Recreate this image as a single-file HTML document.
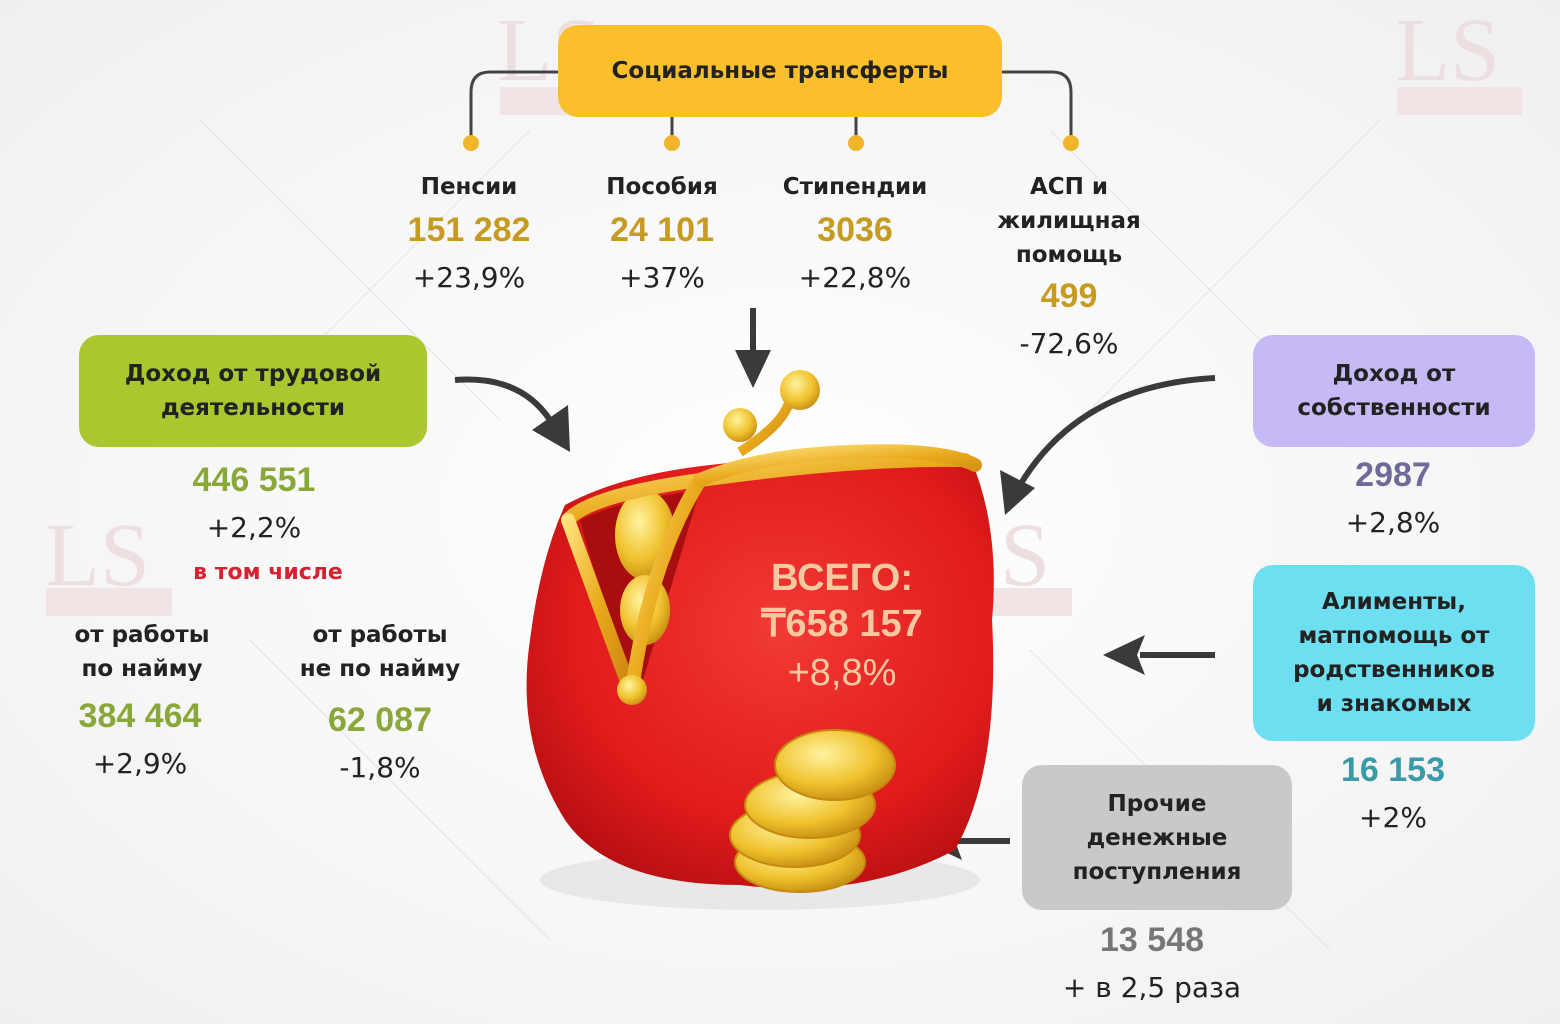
<!DOCTYPE html>
<html><head><meta charset="utf-8"><style>
body{margin:0;width:1560px;height:1024px;overflow:hidden;background:radial-gradient(ellipse at 50% 50%,#ffffff 0%,#f7f7f7 55%,#efefef 100%);font-family:"DejaVu Sans","Liberation Sans",sans-serif;position:relative}
.t{position:absolute;text-align:center;white-space:nowrap;transform:translateX(-50%)}
.h{font-weight:bold;font-size:23px;color:#222;line-height:34px}
.n{font-weight:bold;font-size:34px;line-height:40px;font-family:"Liberation Sans",sans-serif}
.p{font-size:28px;color:#222;line-height:36px}
.box{position:absolute;border-radius:20px;display:flex;align-items:center;justify-content:center;text-align:center;font-weight:bold;font-size:23px;line-height:34px;color:#222}
.g{color:#8aa83a}.y{color:#c79a22}
</style></head><body>
<svg width="1560" height="1024" style="position:absolute;left:0;top:0">
<g stroke="#e6e6e6" stroke-width="1.2" fill="none">
<line x1="200" y1="120" x2="500" y2="420"/><line x1="530" y1="130" x2="230" y2="430"/>
<line x1="1050" y1="130" x2="1350" y2="430"/><line x1="1380" y1="120" x2="1080" y2="420"/>
<line x1="250" y1="640" x2="550" y2="940"/><line x1="1030" y1="650" x2="1330" y2="950"/>
</g>
<g fill="#eddfe0" font-family="Liberation Serif" font-size="90">
<text x="497" y="80">LS</text><text x="1395" y="80">LS</text><text x="45" y="585">LS</text><text x="945" y="585">LS</text>
</g>
<rect x="500" y="87" width="125" height="28" fill="#f0e4e5"/><rect x="1397" y="87" width="125" height="28" fill="#f0e4e5"/>
<rect x="46" y="588" width="126" height="28" fill="#f0e4e5"/><rect x="946" y="588" width="126" height="28" fill="#f0e4e5"/>
<g stroke="#444" stroke-width="3" fill="none">
<path d="M560 72 H490 Q471 72 471 92 V140"/><path d="M1002 72 H1052 Q1071 72 1071 92 V140"/>
<line x1="672" y1="115" x2="672" y2="140"/><line x1="856" y1="115" x2="856" y2="140"/>
</g>
<g fill="#f0b52a"><circle cx="471" cy="143" r="8"/><circle cx="672" cy="143" r="8"/><circle cx="856" cy="143" r="8"/><circle cx="1071" cy="143" r="8"/></g>
<g stroke="#3a3a3a" stroke-width="6" fill="none">
<line x1="753" y1="308" x2="753" y2="360"/>
<path d="M455 380 Q520 375 550 420"/>
<path d="M1215 378 Q1080 385 1020 485"/>
<line x1="1215" y1="655" x2="1140" y2="655"/>
<line x1="1010" y1="841" x2="955" y2="841"/>
</g>
<g fill="#3a3a3a">
<polygon points="735,350 771,350 753,388"/>
<polygon points="532,430 568,405 570,452"/>
<polygon points="1000,470 1035,488 1005,515"/>
<polygon points="1103,655 1145,635 1137,655 1145,675"/>
<polygon points="922,841 962,822 955,841 962,860"/>
</g>
<defs>
<radialGradient id="rd" cx="55%" cy="40%" r="65%"><stop offset="0" stop-color="#f23a35"/><stop offset="0.7" stop-color="#e01b1b"/><stop offset="1" stop-color="#b80f12"/></radialGradient>
<linearGradient id="gd" x1="0" y1="0" x2="1" y2="1"><stop offset="0" stop-color="#ffe27a"/><stop offset="0.5" stop-color="#e9a91c"/><stop offset="1" stop-color="#c98410"/></linearGradient>
<radialGradient id="cn" cx="40%" cy="35%" r="70%"><stop offset="0" stop-color="#fff3a0"/><stop offset="0.6" stop-color="#f0c22e"/><stop offset="1" stop-color="#c48a10"/></radialGradient>
</defs>
<ellipse cx="760" cy="880" rx="220" ry="30" fill="#ddd" opacity="0.6"/>
<path d="M565 505 Q620 475 710 465 Q850 448 972 462 Q1000 530 992 620 Q1000 770 955 850 Q860 900 740 885 Q610 885 565 820 Q515 740 530 640 Q540 560 565 505Z" fill="url(#rd)"/>
<path d="M580 520 Q620 500 700 490 L640 690 Q600 600 580 520Z" fill="#a80e10"/>
<ellipse cx="645" cy="535" rx="30" ry="45" fill="url(#cn)"/><ellipse cx="645" cy="610" rx="25" ry="35" fill="url(#cn)"/>
<g fill="none" stroke="url(#gd)" stroke-width="14" stroke-linecap="round">
<path d="M568 520 Q590 495 700 480 Q860 458 965 460"/>
<path d="M568 520 L630 690"/>
<path d="M632 690 Q650 560 700 480"/>
<path d="M700 480 Q760 455 850 452 Q940 448 975 465"/>
</g>
<path d="M740 452 Q790 420 790 395" stroke="url(#gd)" stroke-width="10" fill="none"/>
<circle cx="800" cy="390" r="20" fill="url(#cn)"/><circle cx="740" cy="425" r="17" fill="url(#cn)"/>
<circle cx="632" cy="690" r="15" fill="url(#cn)"/>
<g stroke="#c48a10" stroke-width="2">
<ellipse cx="800" cy="862" rx="65" ry="30" fill="url(#cn)"/>
<ellipse cx="795" cy="835" rx="65" ry="32" fill="url(#cn)"/>
<ellipse cx="810" cy="805" rx="65" ry="33" fill="url(#cn)"/>
<ellipse cx="835" cy="765" rx="60" ry="35" fill="url(#cn)"/>
</g>
</svg>

<div class="box" style="left:558px;top:25px;width:444px;height:92px;background:#fbbf2c">Социальные трансферты</div>
<div class="t h" style="left:469px;top:170px">Пенсии</div>
<div class="t n y" style="left:469px;top:210px">151 282</div>
<div class="t p" style="left:469px;top:260px">+23,9%</div>
<div class="t h" style="left:662px;top:170px">Пособия</div>
<div class="t n y" style="left:662px;top:210px">24 101</div>
<div class="t p" style="left:662px;top:260px">+37%</div>
<div class="t h" style="left:855px;top:170px">Стипендии</div>
<div class="t n y" style="left:855px;top:210px">3036</div>
<div class="t p" style="left:855px;top:260px">+22,8%</div>
<div class="t h" style="left:1069px;top:170px">АСП и<br>жилищная<br>помощь</div>
<div class="t n y" style="left:1069px;top:276px">499</div>
<div class="t p" style="left:1069px;top:326px">-72,6%</div>

<div class="box" style="left:79px;top:335px;width:348px;height:112px;background:#a9c72e">Доход от трудовой<br>деятельности</div>
<div class="t n g" style="left:254px;top:460px">446 551</div>
<div class="t p" style="left:254px;top:510px">+2,2%</div>
<div class="t" style="left:268px;top:560px;font-weight:bold;font-size:22px;color:#d42230">в том числе</div>
<div class="t h" style="left:142px;top:618px">от работы<br>по найму</div>
<div class="t n g" style="left:140px;top:696px">384 464</div>
<div class="t p" style="left:140px;top:746px">+2,9%</div>
<div class="t h" style="left:380px;top:618px">от работы<br>не по найму</div>
<div class="t n g" style="left:380px;top:700px">62 087</div>
<div class="t p" style="left:380px;top:750px">-1,8%</div>

<div class="box" style="left:1253px;top:335px;width:282px;height:112px;background:#c7b9f5">Доход от<br>собственности</div>
<div class="t n" style="left:1393px;top:455px;color:#6e6a9a">2987</div>
<div class="t p" style="left:1393px;top:505px">+2,8%</div>
<div class="box" style="left:1253px;top:565px;width:282px;height:176px;background:#6ddff0">Алименты,<br>матпомощь от<br>родственников<br>и знакомых</div>
<div class="t n" style="left:1393px;top:750px;color:#3a9aa8">16 153</div>
<div class="t p" style="left:1393px;top:800px">+2%</div>
<div class="box" style="left:1022px;top:765px;width:270px;height:145px;background:#c9c9c9">Прочие<br>денежные<br>поступления</div>
<div class="t n" style="left:1152px;top:920px;color:#777">13 548</div>
<div class="t p" style="left:1152px;top:970px">+ в 2,5 раза</div>

<div class="t" style="left:842px;top:555px;font-weight:bold;font-size:38px;line-height:46px;color:#f7c9a0;font-family:'Liberation Sans',sans-serif">ВСЕГО:<br>₸658 157</div>
<div class="t" style="left:842px;top:652px;font-size:38px;color:#f7c9a0;font-family:'Liberation Sans',sans-serif">+8,8%</div>
</body></html>
